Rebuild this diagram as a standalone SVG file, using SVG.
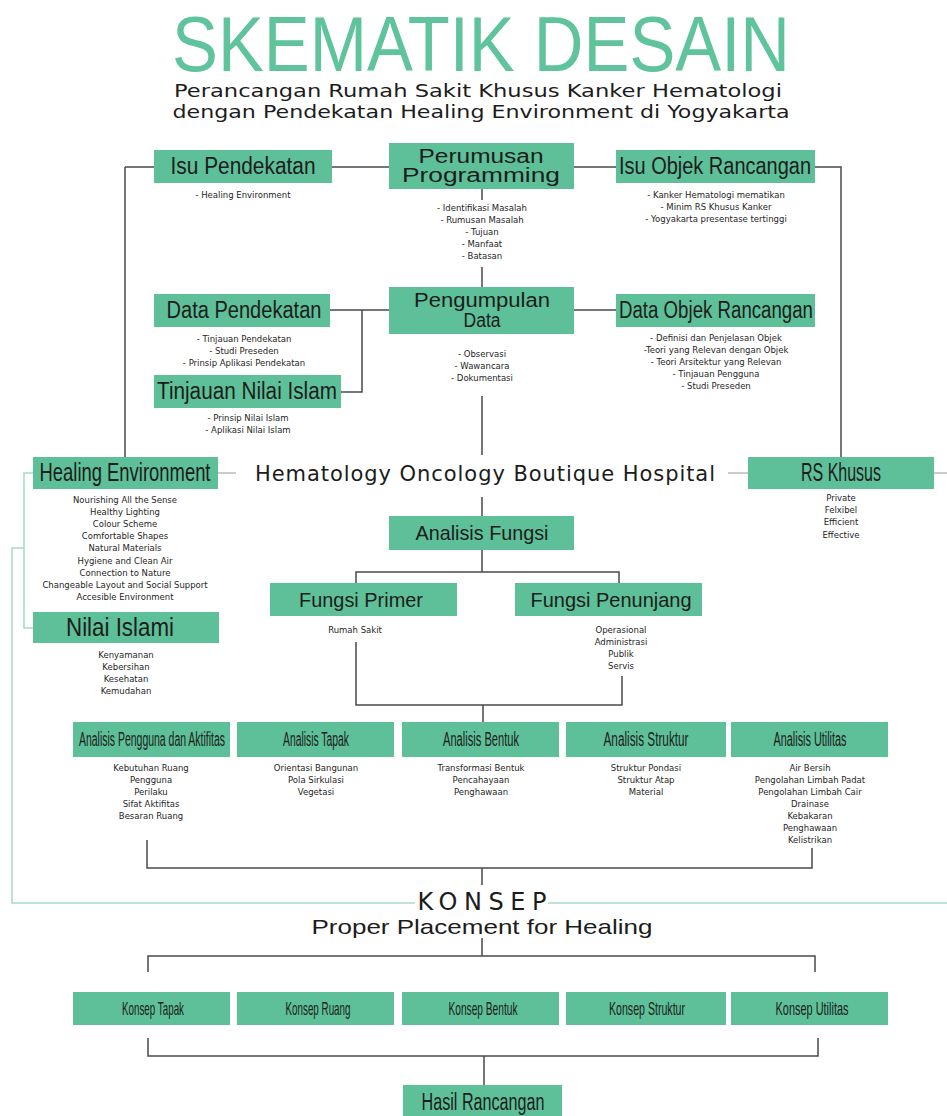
<svg xmlns="http://www.w3.org/2000/svg" width="947" height="1116" viewBox="0 0 947 1116">
<style>
.box{fill:#5dc098}
.lbl{font-family:"Liberation Sans",Arial,sans-serif;fill:#1c1c1c;text-anchor:middle}
.hum{font-family:"DejaVu Sans",Verdana,sans-serif;fill:#1c1c1c;text-anchor:middle}
.lst{font-family:"DejaVu Sans",Verdana,sans-serif;font-size:8.5px;fill:#262626;text-anchor:middle}
.ln{stroke:#4a4a4a;stroke-width:1.5;fill:none}
.fl{stroke:#9a9a9a;stroke-width:1.2;fill:none}
.tl{stroke:#a9dcc8;stroke-width:1.6;fill:none}
</style>
<rect width="947" height="1116" fill="#ffffff"/>

<!-- heading -->
<g id="title">
<text class="lbl" x="481" y="71" font-size="78" style="fill:#5fc39c" textLength="618" lengthAdjust="spacingAndGlyphs">SKEMATIK DESAIN</text>
<text class="hum" x="478" y="97" font-size="18.5" textLength="608" lengthAdjust="spacingAndGlyphs">Perancangan Rumah Sakit Khusus Kanker Hematologi</text>
<text class="hum" x="481" y="118" font-size="18.5" textLength="617" lengthAdjust="spacingAndGlyphs">dengan Pendekatan Healing Environment di Yogyakarta</text>
</g>

<!-- connectors -->
<g id="connectors">
<path class="ln" d="M125,167 H154 M332,167 H389 M574,167 H616 M815,167 H841 V457 M125,167 V457"/>
<path class="ln" d="M482,189 V200 M482,267 V287"/>
<path class="ln" d="M330,310 H389 M362,310 V392 H341 M574,310 H616 M482,396 V455"/>
<path class="fl" d="M218,473 H236 M728,473 H748 M934,473 H947"/>
<path class="ln" d="M482,497 V516 M482,550 V572 M356,583 V572 H619 V583"/>
<path class="ln" d="M356,642 V705 H622 V676 M483,705 V722"/>
<path class="ln" d="M147,840 V868 H812 V848 M482,868 V885"/>
<path class="ln" d="M482,938 V956 M148,972 V956 H815 V972"/>
<path class="ln" d="M148,1038 V1056 H818 V1038 M484,1056 V1085"/>
<path class="tl" d="M33,473 H24 V628 H33 M24,548 H12 V903 H415 M548,903 H947"/>
</g>

<g id="isu-pendekatan">
<rect class="box" x="154" y="150" width="178" height="33"/>
<text class="lbl" x="243" y="174" font-size="23" textLength="145" lengthAdjust="spacingAndGlyphs">Isu Pendekatan</text>
<text class="lst" x="243" y="198">- Healing Environment</text>
</g>

<g id="perumusan-programming">
<rect class="box" x="389" y="143" width="185" height="46"/>
<text class="lbl" x="481" y="163" font-size="20" textLength="125" lengthAdjust="spacingAndGlyphs">Perumusan</text>
<text class="lbl" x="481" y="182" font-size="20" textLength="158" lengthAdjust="spacingAndGlyphs">Programming</text>
<text class="lst" x="482" y="211">- Identifikasi Masalah</text>
<text class="lst" x="482" y="223">- Rumusan Masalah</text>
<text class="lst" x="482" y="235">- Tujuan</text>
<text class="lst" x="482" y="247">- Manfaat</text>
<text class="lst" x="482" y="259">- Batasan</text>
</g>

<g id="isu-objek-rancangan">
<rect class="box" x="616" y="150" width="199" height="33"/>
<text class="lbl" x="715" y="174" font-size="23" textLength="192" lengthAdjust="spacingAndGlyphs">Isu Objek Rancangan</text>
<text class="lst" x="716" y="198">- Kanker Hematologi mematikan</text>
<text class="lst" x="716" y="210">- Minim RS Khusus Kanker</text>
<text class="lst" x="716" y="222">- Yogyakarta presentase tertinggi</text>
</g>

<g id="data-pendekatan">
<rect class="box" x="154" y="294" width="176" height="33"/>
<text class="lbl" x="244" y="318" font-size="23" textLength="155" lengthAdjust="spacingAndGlyphs">Data Pendekatan</text>
<text class="lst" x="244" y="342">- Tinjauan Pendekatan</text>
<text class="lst" x="244" y="354">- Studi Preseden</text>
<text class="lst" x="244" y="366">- Prinsip Aplikasi Pendekatan</text>
</g>

<g id="pengumpulan-data">
<rect class="box" x="389" y="287" width="185" height="47"/>
<text class="lbl" x="482" y="307" font-size="20" textLength="136" lengthAdjust="spacingAndGlyphs">Pengumpulan</text>
<text class="lbl" x="482" y="327" font-size="20" textLength="37" lengthAdjust="spacingAndGlyphs">Data</text>
<text class="lst" x="482" y="357">- Observasi</text>
<text class="lst" x="482" y="369">- Wawancara</text>
<text class="lst" x="482" y="381">- Dokumentasi</text>
</g>

<g id="data-objek-rancangan">
<rect class="box" x="616" y="294" width="199" height="33"/>
<text class="lbl" x="716" y="318" font-size="23" textLength="194" lengthAdjust="spacingAndGlyphs">Data Objek Rancangan</text>
<text class="lst" x="716" y="341">- Definisi dan Penjelasan Objek</text>
<text class="lst" x="716" y="353">-Teori yang Relevan dengan Objek</text>
<text class="lst" x="716" y="365">- Teori Arsitektur yang Relevan</text>
<text class="lst" x="716" y="377">- Tinjauan Pengguna</text>
<text class="lst" x="716" y="389">- Studi Preseden</text>
</g>

<g id="tinjauan-nilai-islam">
<rect class="box" x="154" y="375" width="187" height="33"/>
<text class="lbl" x="247" y="399" font-size="23" textLength="180" lengthAdjust="spacingAndGlyphs">Tinjauan Nilai Islam</text>
<text class="lst" x="248" y="421">- Prinsip Nilai Islam</text>
<text class="lst" x="248" y="433">- Aplikasi Nilai Islam</text>
</g>

<g id="healing-environment">
<rect class="box" x="33" y="457" width="185" height="32"/>
<text class="lbl" x="125" y="481" font-size="25" textLength="171" lengthAdjust="spacingAndGlyphs">Healing Environment</text>
<text class="lst" x="125" y="503">Nourishing All the Sense</text>
<text class="lst" x="125" y="515">Healthy Lighting</text>
<text class="lst" x="125" y="527">Colour Scheme</text>
<text class="lst" x="125" y="539">Comfortable Shapes</text>
<text class="lst" x="125" y="551">Natural Materials</text>
<text class="lst" x="125" y="564">Hygiene and Clean Air</text>
<text class="lst" x="125" y="576">Connection to Nature</text>
<text class="lst" x="125" y="588">Changeable Layout and Social Support</text>
<text class="lst" x="125" y="600">Accesible Environment</text>
</g>

<g id="hospital">
<text class="hum" x="485" y="481" font-size="21" textLength="460" lengthAdjust="spacing">Hematology Oncology Boutique Hospital</text>
</g>

<g id="rs-khusus">
<rect class="box" x="748" y="457" width="186" height="32"/>
<text class="lbl" x="841" y="481" font-size="25" textLength="80" lengthAdjust="spacingAndGlyphs">RS Khusus</text>
<text class="lst" x="841" y="501">Private</text>
<text class="lst" x="841" y="513">Felxibel</text>
<text class="lst" x="841" y="525">Efficient</text>
<text class="lst" x="841" y="538">Effective</text>
</g>

<g id="analisis-fungsi">
<rect class="box" x="389" y="516" width="185" height="34"/>
<text class="lbl" x="482" y="540" font-size="21" textLength="133" lengthAdjust="spacingAndGlyphs">Analisis Fungsi</text>
</g>

<g id="fungsi-primer">
<rect class="box" x="270" y="583" width="187" height="33"/>
<text class="lbl" x="361" y="607" font-size="21" textLength="124" lengthAdjust="spacingAndGlyphs">Fungsi Primer</text>
<text class="lst" x="355" y="633">Rumah Sakit</text>
</g>

<g id="fungsi-penunjang">
<rect class="box" x="515" y="583" width="187" height="33"/>
<text class="lbl" x="611" y="607" font-size="21" textLength="161" lengthAdjust="spacingAndGlyphs">Fungsi Penunjang</text>
<text class="lst" x="621" y="633">Operasional</text>
<text class="lst" x="621" y="645">Administrasi</text>
<text class="lst" x="621" y="657">Publik</text>
<text class="lst" x="621" y="669">Servis</text>
</g>

<g id="nilai-islami">
<rect class="box" x="33" y="612" width="186" height="31"/>
<text class="lbl" x="120" y="636" font-size="26" textLength="108" lengthAdjust="spacingAndGlyphs">Nilai Islami</text>
<text class="lst" x="126" y="658">Kenyamanan</text>
<text class="lst" x="126" y="670">Kebersihan</text>
<text class="lst" x="126" y="682">Kesehatan</text>
<text class="lst" x="126" y="694">Kemudahan</text>
</g>

<g id="analisis-pengguna">
<rect class="box" x="73" y="722" width="157" height="35"/>
<text class="lbl" x="152" y="746" font-size="20" textLength="146" lengthAdjust="spacingAndGlyphs">Analisis Pengguna dan Aktifitas</text>
<text class="lst" x="151" y="771">Kebutuhan Ruang</text>
<text class="lst" x="151" y="783">Pengguna</text>
<text class="lst" x="151" y="795">Perilaku</text>
<text class="lst" x="151" y="807">Sifat Aktifitas</text>
<text class="lst" x="151" y="819">Besaran Ruang</text>
</g>

<g id="analisis-tapak">
<rect class="box" x="237" y="722" width="157" height="35"/>
<text class="lbl" x="316" y="746" font-size="20" textLength="66" lengthAdjust="spacingAndGlyphs">Analisis Tapak</text>
<text class="lst" x="316" y="771">Orientasi Bangunan</text>
<text class="lst" x="316" y="783">Pola Sirkulasi</text>
<text class="lst" x="316" y="795">Vegetasi</text>
</g>

<g id="analisis-bentuk">
<rect class="box" x="402" y="722" width="157" height="35"/>
<text class="lbl" x="481" y="746" font-size="20" textLength="76" lengthAdjust="spacingAndGlyphs">Analisis Bentuk</text>
<text class="lst" x="481" y="771">Transformasi Bentuk</text>
<text class="lst" x="481" y="783">Pencahayaan</text>
<text class="lst" x="481" y="795">Penghawaan</text>
</g>

<g id="analisis-struktur">
<rect class="box" x="566" y="722" width="160" height="35"/>
<text class="lbl" x="646" y="746" font-size="20" textLength="85" lengthAdjust="spacingAndGlyphs">Analisis Struktur</text>
<text class="lst" x="646" y="771">Struktur Pondasi</text>
<text class="lst" x="646" y="783">Struktur Atap</text>
<text class="lst" x="646" y="795">Material</text>
</g>

<g id="analisis-utilitas">
<rect class="box" x="731" y="722" width="157" height="35"/>
<text class="lbl" x="810" y="746" font-size="20" textLength="73" lengthAdjust="spacingAndGlyphs">Analisis Utilitas</text>
<text class="lst" x="810" y="771">Air Bersih</text>
<text class="lst" x="810" y="783">Pengolahan Limbah Padat</text>
<text class="lst" x="810" y="795">Pengolahan Limbah Cair</text>
<text class="lst" x="810" y="807">Drainase</text>
<text class="lst" x="810" y="819">Kebakaran</text>
<text class="lst" x="810" y="831">Penghawaan</text>
<text class="lst" x="810" y="843">Kelistrikan</text>
</g>

<g id="konsep">
<text class="hum" x="482" y="910" font-size="24" textLength="129" lengthAdjust="spacing">KONSEP</text>
<text class="lbl" x="482" y="934" font-size="21" textLength="341" lengthAdjust="spacingAndGlyphs">Proper Placement for Healing</text>
</g>

<g id="konsep-tapak">
<rect class="box" x="73" y="992" width="157" height="33"/>
<text class="lbl" x="153" y="1015" font-size="19" textLength="62" lengthAdjust="spacingAndGlyphs">Konsep Tapak</text>
</g>
<g id="konsep-ruang">
<rect class="box" x="237" y="992" width="157" height="33"/>
<text class="lbl" x="318" y="1015" font-size="19" textLength="65" lengthAdjust="spacingAndGlyphs">Konsep Ruang</text>
</g>
<g id="konsep-bentuk">
<rect class="box" x="402" y="992" width="157" height="33"/>
<text class="lbl" x="483" y="1015" font-size="19" textLength="69" lengthAdjust="spacingAndGlyphs">Konsep Bentuk</text>
</g>
<g id="konsep-struktur">
<rect class="box" x="566" y="992" width="160" height="33"/>
<text class="lbl" x="647" y="1015" font-size="19" textLength="76" lengthAdjust="spacingAndGlyphs">Konsep Struktur</text>
</g>
<g id="konsep-utilitas">
<rect class="box" x="731" y="992" width="157" height="33"/>
<text class="lbl" x="812" y="1015" font-size="19" textLength="73" lengthAdjust="spacingAndGlyphs">Konsep Utilitas</text>
</g>

<g id="hasil-rancangan">
<rect class="box" x="403" y="1085" width="159" height="40"/>
<text class="lbl" x="483" y="1110" font-size="23" textLength="123" lengthAdjust="spacingAndGlyphs">Hasil Rancangan</text>
</g>
</svg>
